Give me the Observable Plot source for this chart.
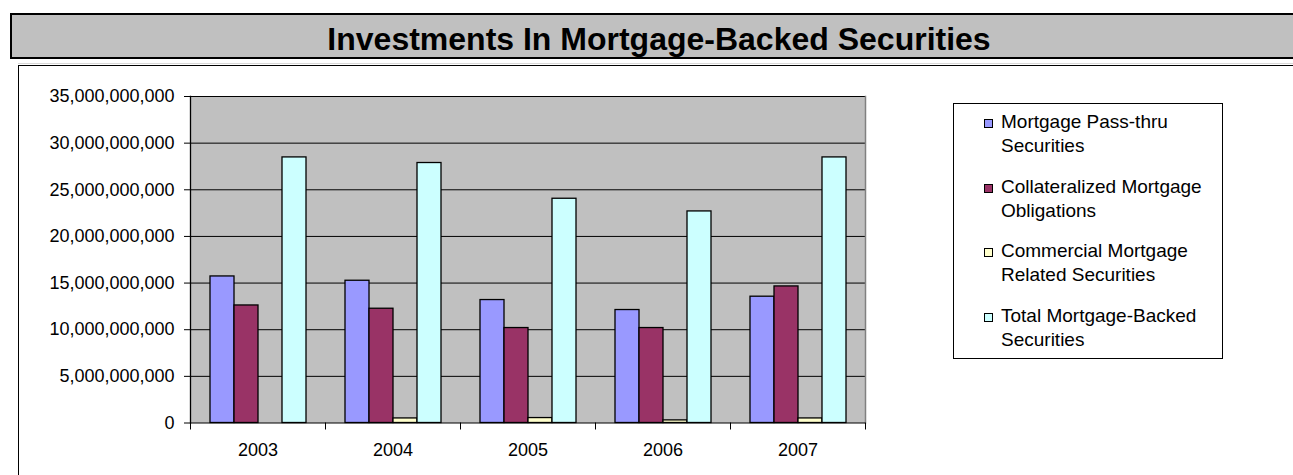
<!DOCTYPE html>
<html><head><meta charset="utf-8">
<script src="https://cdn.jsdelivr.net/npm/d3@7"></script>
<script src="https://cdn.jsdelivr.net/npm/@observablehq/plot@0.6"></script>
<style>
html,body{margin:0;padding:0;background:#fff;width:1293px;height:475px;overflow:hidden;font-family:"Liberation Sans",Arial,sans-serif;}
#title{position:absolute;left:10px;top:13px;width:1283px;height:46px;box-sizing:border-box;border:2px solid #000;border-right:none;background:#c0c0c0;}
#title span{position:absolute;left:0;width:1294px;top:8px;text-align:center;font-weight:bold;font-size:32px;line-height:32px;color:#000;white-space:nowrap;}
#sep{position:absolute;left:18px;top:63px;width:1275px;height:1px;background:#d8d8d8;}
#box{position:absolute;left:18px;top:65px;width:1275px;height:410px;box-sizing:border-box;border-top:1.5px solid #000;border-left:1.5px solid #000;}
#chart{position:absolute;left:0;top:65px;}
#legend{position:absolute;left:953px;top:103px;width:270px;height:256px;box-sizing:border-box;border:1px solid #000;padding-top:6px;background:#fff;}
.item{position:relative;padding-left:47px;font-size:19px;line-height:24px;margin-bottom:16.5px;color:#000;white-space:nowrap;}
.sw{position:absolute;left:30px;top:9px;width:9px;height:9px;box-sizing:border-box;border:1px solid #000;}
</style>
</head><body>
<div id="title"><span id="titleText">Investments In Mortgage-Backed Securities</span></div>
<div id="sep"></div>
<div id="box"></div>
<div id="chart"></div>
<div id="legend"></div>
<script>
const years = ["2003", "2004", "2005", "2006", "2007"];
const series = [
  "Mortgage Pass-thru Securities",
  "Collateralized Mortgage Obligations",
  "Commercial Mortgage Related Securities",
  "Total Mortgage-Backed Securities"
];
const legendLines = [
  ["Mortgage Pass-thru", "Securities"],
  ["Collateralized Mortgage", "Obligations"],
  ["Commercial Mortgage", "Related Securities"],
  ["Total Mortgage-Backed", "Securities"]
];
const passThru   = [15.71e9, 15.25e9, 13.18e9, 12.11e9, 13.54e9];
const cmo        = [12.60e9, 12.25e9, 10.18e9, 10.18e9, 14.64e9];
const commercial = [0, 0.49e9, 0.53e9, 0.28e9, 0.49e9];
const total      = [28.47e9, 27.87e9, 24.04e9, 22.68e9, 28.47e9];
const colors = ["#9999FF", "#993366", "#FFFFCC", "#CCFFFF"];
const yTicks = [0, 5e9, 10e9, 15e9, 20e9, 25e9, 30e9, 35e9];

const valuesBySeries = [passThru, cmo, commercial, total];
const rows = years.flatMap((yr, i) => series.map((s, j) => ({year: yr, series: s, value: valuesBySeries[j][i]})));

const H = 410, MT = 31, MB = 52.5;
const plotH = H - MT - MB;

const chart = Plot.plot({
  width: 900,
  height: H,
  marginLeft: 188,
  marginRight: 34,
  marginTop: MT,
  marginBottom: MB,
  style: {fontFamily: "'Liberation Sans', Arial, sans-serif", fontSize: "18px", color: "#000", background: "transparent", overflow: "visible"},
  fx: {domain: years, padding: 0, label: null, axis: null},
  x: {domain: series, paddingInner: 0, paddingOuter: 0.73, axis: null},
  y: {domain: [0, 35e9], axis: null},
  color: {domain: series, range: colors},
  marks: [
    Plot.frame({fill: "#c0c0c0", stroke: "none", insetLeft: -0.5, insetRight: -0.5}),
    Plot.ruleY(yTicks.filter(d => d > 0), {stroke: "#000", strokeWidth: 1}),
    Plot.frame({anchor: "right", facetAnchor: "right", stroke: "#808080", strokeWidth: 1.5}),
    Plot.barY(rows, {fx: "year", x: "series", y: "value", fill: "series", stroke: "#000", strokeWidth: 1.3}),
    Plot.ruleY([0], {stroke: "#000", strokeWidth: 1}),
    Plot.frame({anchor: "left", insetTop: plotH, insetBottom: -6, stroke: "#000"}),
    Plot.frame({anchor: "right", facetAnchor: "right", insetTop: plotH, insetBottom: -6, stroke: "#000"}),
    Plot.frame({anchor: "left", facetAnchor: "left", stroke: "#000", strokeWidth: 1.3}),
    Plot.axisY({ticks: yTicks, tickFormat: d3.format(","), tickSize: 6, tickPadding: 10, label: null, fontSize: 18}),
    Plot.axisFx({anchor: "bottom", tickSize: 0, tickPadding: 20, label: null, fontSize: 18})
  ]
});
document.getElementById("chart").appendChild(chart);

const legend = document.getElementById("legend");
series.forEach((s, j) => {
  const item = document.createElement("div");
  item.className = "item";
  const sw = document.createElement("div");
  sw.className = "sw";
  sw.style.background = colors[j];
  item.appendChild(sw);
  legendLines[j].forEach(t => {
    const line = document.createElement("div");
    line.textContent = t;
    item.appendChild(line);
  });
  legend.appendChild(item);
});
</script>
</body></html>
